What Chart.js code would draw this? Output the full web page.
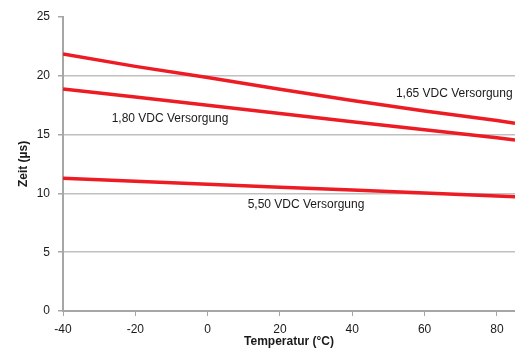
<!DOCTYPE html>
<html>
<head>
<meta charset="utf-8">
<script src="https://cdn.jsdelivr.net/npm/chart.js@4/dist/chart.umd.min.js"></script>
<style>
html,body{margin:0;padding:0;background:#fff;}
#wrap{width:515px;height:349px;position:relative;}
</style>
</head>
<body>
<div id="wrap"><canvas id="c" width="515" height="349"></canvas></div>
<script>
// Data
const temperatures = [-40, -20, 0, 20, 40, 60, 80, 85];
const supply165 = [21.85, 20.8, 19.85, 18.85, 17.9, 17.0, 16.2, 15.96];
const supply180 = [18.88, 18.2, 17.49, 16.8, 16.1, 15.42, 14.73, 14.55];
const supply550 = [11.28, 11.03, 10.78, 10.53, 10.28, 10.03, 9.78, 9.72];
const seriesNames = ['1,65 VDC Versorgung', '1,80 VDC Versorgung', '5,50 VDC Versorgung'];
const xTicks = [-40, -20, 0, 20, 40, 60, 80];
const yTicks = [0, 5, 10, 15, 20, 25];

// Label anchors in data units (temperature, time)
const labelAnchors = [
  {text: seriesNames[0], x: 68.2, y: 18.45},
  {text: seriesNames[1], x: -10.4, y: 16.33},
  {text: seriesNames[2], x: 27.2, y: 9.01}
];

const RED = '#ed1c24';
const toPts = vals => temperatures.map((t, i) => ({x: t, y: vals[i]}));

const labelPlugin = {
  id: 'seriesLabels',
  afterDatasetsDraw(chart) {
    const {ctx, scales} = chart;
    ctx.save();
    ctx.font = '12px "Liberation Sans", Arial, sans-serif';
    ctx.fillStyle = '#1a1a1a';
    ctx.textAlign = 'center';
    ctx.textBaseline = 'middle';
    labelAnchors.forEach(l => {
      ctx.fillText(l.text, scales.x.getPixelForValue(l.x), scales.y.getPixelForValue(l.y));
    });
    ctx.restore();
  }
};

const ds = (name, vals) => ({
  label: name,
  data: toPts(vals),
  borderColor: RED,
  backgroundColor: RED,
  borderWidth: 3.5,
  pointRadius: 0,
  tension: 0,
  fill: false
});

new Chart(document.getElementById('c'), {
  type: 'line',
  data: {
    datasets: [ds(seriesNames[0], supply165), ds(seriesNames[1], supply180), ds(seriesNames[2], supply550)]
  },
  options: {
    responsive: false,
    animation: false,
    devicePixelRatio: 1,
    layout: {padding: {top: 17, right: 0, left: 0, bottom: 0}},
    plugins: {legend: {display: false}, tooltip: {enabled: false}},
    scales: {
      x: {
        type: 'linear',
        min: -40,
        max: 85,
        afterBuildTicks: s => { s.ticks = xTicks.map(v => ({value: v})); },
        afterFit: s => { s.height = 38; },
        grid: {drawOnChartArea: false, drawTicks: true, tickLength: 5, color: '#a6a6a6', lineWidth: 1},
        border: {color: '#a6a6a6', width: 2},
        ticks: {color: '#1a1a1a', padding: 6, maxRotation: 0, font: {family: '"Liberation Sans", Arial, sans-serif', size: 12}},
        title: {display: true, text: 'Temperatur (°C)', color: '#1a1a1a', padding: {top: 0, bottom: 0}, font: {family: '"Liberation Sans", Arial, sans-serif', size: 12, weight: 'bold'}}
      },
      y: {
        min: 0,
        max: 25,
        afterBuildTicks: s => { s.ticks = yTicks.map(v => ({value: v})); },
        afterFit: s => { s.width = 63; },
        grid: {
          drawTicks: true,
          tickLength: 5,
          tickColor: '#a6a6a6',
          color: c => (c.tick && c.tick.value === 25) ? 'rgba(0,0,0,0)' : '#c0c0c0',
          lineWidth: 1.5
        },
        border: {color: '#a6a6a6', width: 2},
        ticks: {color: '#1a1a1a', padding: 8, font: {family: '"Liberation Sans", Arial, sans-serif', size: 12}},
        title: {display: true, text: 'Zeit (µs)', color: '#1a1a1a', padding: {top: 16, bottom: 0}, font: {family: '"Liberation Sans", Arial, sans-serif', size: 12, weight: 'bold'}}
      }
    }
  },
  plugins: [labelPlugin]
});
</script>
</body>
</html>
